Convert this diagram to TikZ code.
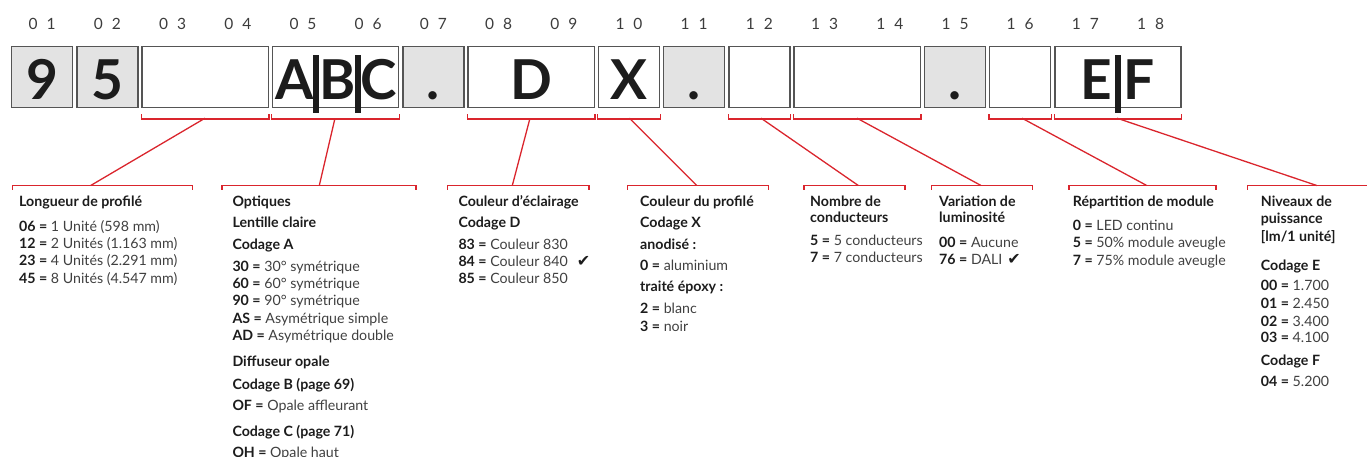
\documentclass[tikz,border=0pt]{standalone}
\usepackage{fontspec}
\setmainfont{Lato}
\newfontfamily\symfont{DejaVu Sans}
\usetikzlibrary{calc}
\definecolor{cred}{RGB}{218,37,45}
\definecolor{cbox}{RGB}{85,85,85}
\definecolor{cfill}{RGB}{227,227,227}
\definecolor{ctxt}{RGB}{28,28,28}
\definecolor{cbody}{RGB}{64,64,64}
\definecolor{cnum}{RGB}{60,60,60}
\begin{document}
\begin{tikzpicture}[x=1pt,y=-1pt,
 unitbox/.style={draw=cbox, line width=1.4pt, minimum height=61.2pt, minimum width=61pt, inner sep=0pt, fill=white},
 widebox/.style={unitbox, minimum width=126.2pt},
 grayfill/.style={fill=cfill},
 big/.style={anchor=base, inner sep=0pt, font=\fontsize{55}{55}\selectfont\bfseries, text=ctxt},
 numlab/.style={anchor=base, inner sep=0pt, font=\fontsize{15.5}{15.5}\selectfont, text=cnum},
 barfill/.style={fill=ctxt, draw=none},
 brk/.style={draw=cred, line width=1.3pt},
 hd/.style={anchor=base west, inner sep=0pt, font=\fontsize{14.2}{14.2}\selectfont\bfseries, text=ctxt},
 bd/.style={anchor=base west, inner sep=0pt, font=\fontsize{14.2}{14.2}\selectfont, text=cbody},
 chk/.style={anchor=base, inner sep=0pt, font=\fontsize{16}{16}\symfont, text=ctxt},
]
\useasboundingbox (0,0) rectangle (1367,457);

% position numbers
\foreach \a/\b [count=\i from 0] in {0/1,0/2,0/3,0/4,0/5,0/6,0/7,0/8,0/9,1/0,1/1,1/2,1/3,1/4,1/5,1/6,1/7,1/8}
  \node[numlab] (n\i) at ({42.2+65.2*\i},29.3) {\a\hspace{9pt}\b};

% boxes
\node[unitbox,grayfill] (b01) at (42.2,77.1) {};
\node[unitbox,grayfill] (b02) at (107.4,77.1) {};
\node[widebox] (b0304) at (205.2,77.1) {};
\node[widebox] (b0506) at (335.6,77.1) {};
\node[unitbox,grayfill] (b07) at (433.4,77.1) {};
\node[widebox] (b0809) at (531.2,77.1) {};
\node[unitbox] (b10) at (629,77.1) {};
\node[unitbox,grayfill] (b11) at (694.2,77.1) {};
\node[unitbox] (b12) at (759.4,77.1) {};
\node[widebox] (b1314) at (857.2,77.1) {};
\node[unitbox,grayfill] (b15) at (955,77.1) {};
\node[unitbox] (b16) at (1020.2,77.1) {};
\node[widebox] (b1718) at (1118,77.1) {};

% big letters
\node[big] (g9) at (42.2,99.3) {9};
\node[big] (g5) at (107.4,99.3) {5};
\node[big] (gA) at (294.8,99.3) {A};
\node[big] (gB) at (337.5,99.3) {B};
\node[big] (gC) at (378.2,99.3) {C};
\node[big] (gd1) at (433.4,99.3) {.};
\node[big] (gD) at (531.2,99.3) {D};
\node[big] (gX) at (629,99.3) {X};
\node[big] (gd2) at (694.2,99.3) {.};
\node[big] (gd3) at (955,99.3) {.};
\node[big] (gE) at (1096.7,99.3) {E};
\node[big] (gF) at (1139.5,99.3) {F};
\fill[barfill] (313.3,55) rectangle (319,112.7);
\fill[barfill] (355,55) rectangle (360.7,112.7);
\fill[barfill] (1115,55) rectangle (1120.7,112.7);

% top brackets
\foreach \b in {b0304,b0506,b0809,b10,b12,b1314,b16,b1718}
  \draw[brk] ([yshift=-6pt]\b.south west) -- ++(0,4.5) -| ([yshift=-6pt]\b.south east);
\coordinate (c1) at (205,118.2);
\coordinate (c2) at (335,118.2);
\coordinate (c3) at (530,118.2);
\coordinate (c4) at (629.5,118.2);
\coordinate (c5) at (761,118.2);
\coordinate (c6) at (857,118.2);
\coordinate (c7) at (1022,118.2);
\coordinate (c8) at (1117,118.2);

% lower brackets
\draw[brk] (12.3,189.8) -- (12.3,185.5) -- (192.3,185.5) -- (192.3,189.8);
\draw[brk] (222,189.8) -- (222,185.5) -- (416,185.5) -- (416,189.8);
\draw[brk] (447.3,189.8) -- (447.3,185.5) -- (589,185.5) -- (589,189.8);
\draw[brk] (627.3,189.8) -- (627.3,185.5) -- (768.3,185.5) -- (768.3,189.8);
\draw[brk] (804,189.8) -- (804,185.5) -- (905,185.5) -- (905,189.8);
\draw[brk] (931.7,189.8) -- (931.7,185.5) -- (1032.3,185.5) -- (1032.3,189.8);
\draw[brk] (1069,189.8) -- (1069,185.5) -- (1216,185.5) -- (1216,189.8);
\draw[brk] (1247.3,189.8) -- (1247.3,185.5) -- (1380,185.5);
\coordinate (l1) at (90.7,185.5);
\coordinate (l2) at (319.3,185.5);
\coordinate (l3) at (512.3,185.5);
\coordinate (l4) at (696.7,185.5);
\coordinate (l5) at (858.3,185.5);
\coordinate (l6) at (981,185.5);
\coordinate (l7) at (1146.7,185.5);
\coordinate (l8) at (1316.7,185.5);
\foreach \i in {1,...,8} \draw[brk] (c\i) -- (l\i);

% column 1
\node[hd] (t1a) at (19,206.5) {Longueur de profilé};
\node[bd] (t1b) at (19,231) {\textcolor{ctxt}{\textbf{06 =}} 1 Unité (598 mm)};
\node[bd] (t1c) at (19,248.3) {\textcolor{ctxt}{\textbf{12 =}} 2 Unités (1.163 mm)};
\node[bd] (t1d) at (19,265.7) {\textcolor{ctxt}{\textbf{23 =}} 4 Unités (2.291 mm)};
\node[bd] (t1e) at (19,283) {\textcolor{ctxt}{\textbf{45 =}} 8 Unités (4.547 mm)};

% column 2
\node[hd] (t2a) at (232.3,206.5) {Optiques};
\node[hd] (t2b) at (232.3,227) {Lentille claire};
\node[hd] (t2c) at (232.3,249) {Codage A};
\node[bd] (t2d) at (232.3,271) {\textcolor{ctxt}{\textbf{30 =}} 30° symétrique};
\node[bd] (t2e) at (232.3,288.3) {\textcolor{ctxt}{\textbf{60 =}} 60° symétrique};
\node[bd] (t2f) at (232.3,305.7) {\textcolor{ctxt}{\textbf{90 =}} 90° symétrique};
\node[bd] (t2g) at (232.3,323) {\textcolor{ctxt}{\textbf{AS =}} Asymétrique simple};
\node[bd] (t2h) at (232.3,340.3) {\textcolor{ctxt}{\textbf{AD =}} Asymétrique double};
\node[hd] (t2i) at (232.3,366.7) {Diffuseur opale};
\node[hd] (t2j) at (232.3,389) {Codage B (page 69)};
\node[bd] (t2k) at (232.3,410) {\textcolor{ctxt}{\textbf{OF =}} Opale affleurant};
\node[hd] (t2l) at (232.3,436.7) {Codage C (page 71)};
\node[bd] (t2m) at (232.3,457.3) {\textcolor{ctxt}{\textbf{OH =}} Opale haut};

% column 3
\node[hd] (t3a) at (458.3,206.5) {Couleur d’éclairage};
\node[hd] (t3b) at (458.3,227) {Codage D};
\node[bd] (t3c) at (458.3,249) {\textcolor{ctxt}{\textbf{83 =}} Couleur 830};
\node[bd] (t3d) at (458.3,266) {\textcolor{ctxt}{\textbf{84 =}} Couleur 840};
\node[bd] (t3e) at (458.3,283.3) {\textcolor{ctxt}{\textbf{85 =}} Couleur 850};
\node[chk] (k1) at (583.5,266) {✔};

% column 4
\node[hd] (t4a) at (640,206.5) {Couleur du profilé};
\node[hd] (t4b) at (640,227) {Codage X};
\node[hd] (t4c) at (640,249) {anodisé :};
\node[bd] (t4d) at (640,270.7) {\textcolor{ctxt}{\textbf{0 =}} aluminium};
\node[hd] (t4e) at (640,291.7) {traité époxy :};
\node[bd] (t4f) at (640,313.3) {\textcolor{ctxt}{\textbf{2 =}} blanc};
\node[bd] (t4g) at (640,331) {\textcolor{ctxt}{\textbf{3 =}} noir};

% column 5
\node[hd] (t5a) at (810,206.5) {Nombre de};
\node[hd] (t5b) at (810,222.5) {conducteurs};
\node[bd] (t5c) at (810,245) {\textcolor{ctxt}{\textbf{5 =}} 5 conducteurs};
\node[bd] (t5d) at (810,262) {\textcolor{ctxt}{\textbf{7 =}} 7 conducteurs};

% column 6
\node[hd] (t6a) at (939,206.5) {Variation de};
\node[hd] (t6b) at (939,222.5) {luminosité};
\node[bd] (t6c) at (939,247.3) {\textcolor{ctxt}{\textbf{00 =}} Aucune};
\node[bd] (t6d) at (939,264.3) {\textcolor{ctxt}{\textbf{76 =}} DALI};
\node[chk] (k2) at (1014,264.3) {✔};

% column 7
\node[hd] (t7a) at (1072.7,206.5) {Répartition de module};
\node[bd] (t7b) at (1072.7,230) {\textcolor{ctxt}{\textbf{0 =}} LED continu};
\node[bd] (t7c) at (1072.7,247.7) {\textcolor{ctxt}{\textbf{5 =}} 50\% module aveugle};
\node[bd] (t7d) at (1072.7,265) {\textcolor{ctxt}{\textbf{7 =}} 75\% module aveugle};

% column 8
\node[hd] (t8a) at (1260.7,206.5) {Niveaux de};
\node[hd] (t8b) at (1260.7,223.3) {puissance};
\node[hd] (t8c) at (1260.7,241.7) {[lm/1 unité]};
\node[hd] (t8d) at (1260.7,270) {Codage E};
\node[bd] (t8e) at (1260.7,290.7) {\textcolor{ctxt}{\textbf{00 =}} 1.700};
\node[bd] (t8f) at (1260.7,308.3) {\textcolor{ctxt}{\textbf{01 =}} 2.450};
\node[bd] (t8g) at (1260.7,326) {\textcolor{ctxt}{\textbf{02 =}} 3.400};
\node[bd] (t8h) at (1260.7,342.7) {\textcolor{ctxt}{\textbf{03 =}} 4.100};
\node[hd] (t8i) at (1260.7,365) {Codage F};
\node[bd] (t8j) at (1260.7,386.7) {\textcolor{ctxt}{\textbf{04 =}} 5.200};
\end{tikzpicture}
\end{document}
